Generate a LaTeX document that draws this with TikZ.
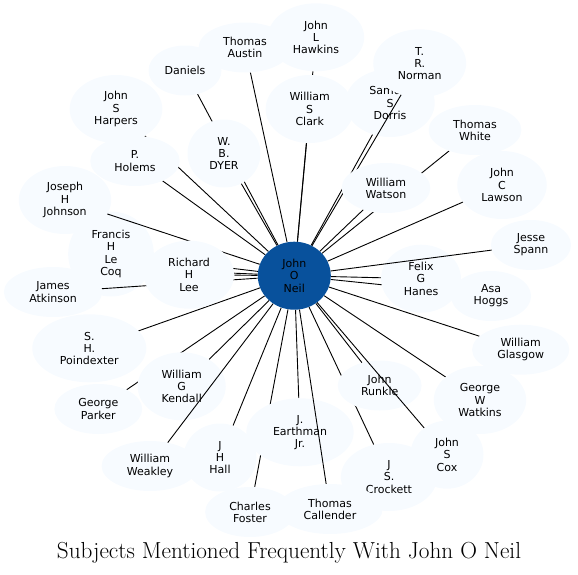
\documentclass[tikz,border=0pt]{standalone}
\usepackage{fontspec}
\newfontfamily\subjfont{DejaVu Sans}
\usepackage{tikz}
\usetikzlibrary{shapes.geometric}
\definecolor{subjfill}{HTML}{F7FBFF}
\definecolor{hubblue}{HTML}{08519C}
\pgfdeclarelayer{edgelayer}
\pgfdeclarelayer{overlayer}
\pgfdeclarelayer{toplayer}
\pgfsetlayers{edgelayer,main,overlayer,toplayer}

\begin{document}
\begin{tikzpicture}[x=1pt,y=-1pt,
    subj/.style={ellipse,fill=subjfill,inner xsep=11pt,inner ysep=0pt,
      minimum width=73pt,minimum height=50pt,align=center,
      font=\subjfont\fontsize{11}{12.2}\selectfont},
    three/.style={minimum height=68pt},
    four/.style={minimum height=85pt},
    link/.style={line width=0.9pt,black}]
  \useasboundingbox (0,0) rectangle (578,574);
  % hub
  \node[subj,three,fill=hubblue] (oneil) at (294.3,275.7) {John\\O\\Neil};
  % subjects, upper half
  \node[subj] (austin) at (245,47.5) {Thomas\\Austin};
  \node[subj,three] (hawkins) at (316,37.3) {John\\L\\Hawkins};
  \node[subj,inner xsep=4pt] (daniels) at (185,70.5) {Daniels};
  \node[subj,three] (harpers) at (116,109) {John\\S\\Harpers};
  \node[subj,three] (dyer) at (224,153.5) {W.\\B.\\DYER};
  \node[subj] (holems) at (135,161) {P.\\Holems};
  \node[subj,three] (clark) at (309.7,109) {William\\S\\Clark};
  \node[subj,three] (dorris) at (390,103) {Samuel\\S\\Dorris};
  \node[subj] (white) at (475,130) {Thomas\\White};
  \node[subj,three] (lawson) at (502,185) {John\\C\\Lawson};
  \node[subj] (spann) at (531,245) {Jesse\\Spann};
  \node[subj,three] (hanes) at (421,278.7) {Felix\\G\\Hanes};
  \node[subj] (hoggs) at (491,296) {Asa\\Hoggs};
  \node[subj,three] (johnson) at (65,200) {Joseph\\H\\Johnson};
  \node[subj,four] (lecoq) at (111,254) {Francis\\H\\Le\\Coq};
  \node[subj] (atkinson) at (53,292) {James\\Atkinson};
  % subjects, lower half
  \node[subj] (glasgow) at (520.7,349.7) {William\\Glasgow};
  \node[subj,three] (watkins) at (480,400) {George\\W\\Watkins};
  \node[subj] (runkle) at (379.7,385.5) {John\\Runkle};
  \node[subj,three] (cox) at (447,454.7) {John\\S\\Cox};
  \node[subj,three] (crockett) at (389,477) {J\\S.\\Crockett};
  \node[subj] (callender) at (330,509) {Thomas\\Callender};
  \node[subj,three] (earthman) at (300,432.3) {J.\\Earthman\\Jr.};
  \node[subj] (foster) at (250,512) {Charles\\Foster};
  \node[subj,three] (hall) at (220,457.5) {J\\H\\Hall};
  \node[subj] (weakley) at (150,466) {William\\Weakley};
  \node[subj,three] (kendall) at (181.7,386.3) {William\\G\\Kendall};
  \node[subj] (parker) at (98.3,409) {George\\Parker};
  \node[subj,three] (poindexter) at (89.3,348.3) {S.\\H.\\Poindexter};
  % these lie over other lines
  \begin{pgfonlayer}{toplayer}
    \node[subj,three] (norman) at (419.7,63.3) {T.\\R.\\Norman};
    \node[subj] (watson) at (386,188) {William\\Watson};
    \node[subj,three] (lee) at (189,274.7) {Richard\\H\\Lee};
  \end{pgfonlayer}
  \coordinate (leeback) at (170,270.5);
  % title
  \node[anchor=base,font=\fontsize{23.2}{27}\selectfont] (title) at (289,558)
    {Subjects Mentioned Frequently With John O Neil};
  % links behind the nodes
  \begin{pgfonlayer}{edgelayer}
    \draw[link] (oneil) -- (austin);
    \draw[link] (oneil) -- (hawkins);
    \draw[link] (oneil) -- (daniels);
    \draw[link] (oneil) -- (harpers);
    \draw[link] (oneil) -- (dyer);
    \draw[link] (oneil) -- (holems);
    \draw[link] (oneil) -- (clark);
    \draw[link] (oneil) -- (dorris);
    \draw[link] (oneil) -- (white);
    \draw[link] (oneil) -- (watson);
    \draw[link] (oneil) -- (lawson);
    \draw[link] (oneil) -- (hanes);
    \draw[link] (oneil) -- (hoggs);
    \draw[link] (oneil) -- (glasgow);
    \draw[link] (oneil) -- (watkins);
    \draw[link] (oneil) -- (runkle);
    \draw[link] (oneil) -- (crockett);
    \draw[link] (oneil) -- (earthman);
    \draw[link] (oneil) -- (foster);
    \draw[link] (oneil) -- (hall);
    \draw[link] (oneil) -- (kendall);
    \draw[link] (oneil) -- (parker);
    \draw[link] (oneil) -- (poindexter);
    \draw[link] (oneil) -- (lee);
    \draw[link] (oneil) -- (leeback);
    \draw[link] (oneil) -- (lecoq);
  \end{pgfonlayer}
  % links drawn over the nodes they cross
  \begin{pgfonlayer}{overlayer}
    \draw[link] (oneil) -- (norman);
    \draw[link] (oneil) -- (spann);
    \draw[link] (oneil) -- (cox);
    \draw[link] (oneil) -- (callender);
    \draw[link] (oneil) -- (weakley);
    \draw[link] (oneil) -- (johnson);
    \draw[link] (oneil) -- (atkinson);
  \end{pgfonlayer}
\end{tikzpicture}
\end{document}
